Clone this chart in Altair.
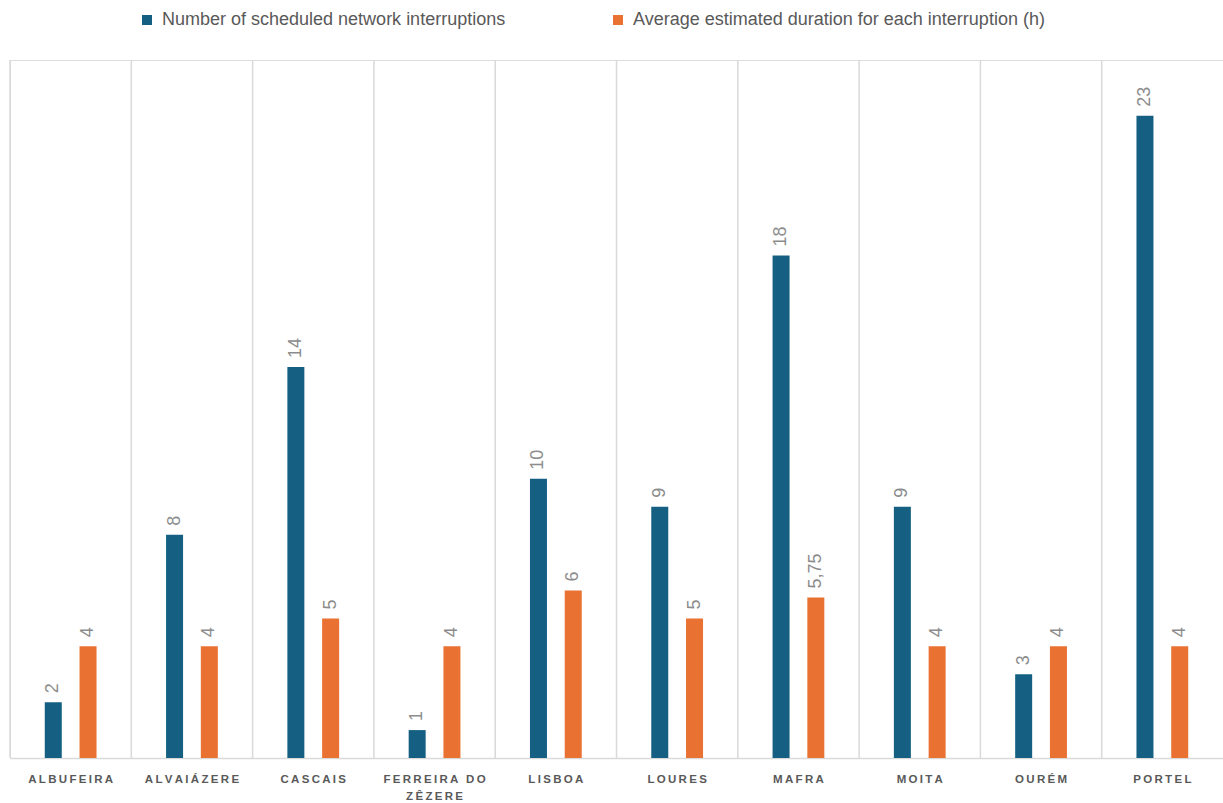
import altair as alt
import pandas as pd

categories = ["Albufeira", "Alvaiázere", "Cascais", "Ferreira do Zêzere", "Lisboa",
              "Loures", "Mafra", "Moita", "Ourém", "Portel"]
interruptions = [2, 8, 14, 1, 10, 9, 18, 9, 3, 23]
avg_duration = [4, 4, 5, 4, 6, 5, 5.75, 4, 4, 4]
series_names = ["Number of scheduled network interruptions",
                "Average estimated duration for each interruption (h)"]
series_colors = ["#156082", "#E97132"]


def fmt(v):
    s = ("%g" % v)
    return s.replace(".", ",")


rows = []
for c, a, b in zip(categories, interruptions, avg_duration):
    rows.append({"cat": c, "series": series_names[0], "value": a, "label": fmt(a)})
    rows.append({"cat": c, "series": series_names[1], "value": b, "label": fmt(b)})
df = pd.DataFrame(rows)
grid_df = pd.DataFrame({"cat": categories})

W = 1213
H = 698

sp = "\u2009"
label_expr = (
    "datum.label == 'Ferreira do Zêzere' ? "
    "[replace('FERREIRA DO', regexp('(.)(?=.)', 'g'), '$1" + sp + "'), "
    "replace('ZÊZERE', regexp('(.)(?=.)', 'g'), '$1" + sp + "')] : "
    "replace(upper(datum.label), regexp('(.)(?=.)', 'g'), '$1" + sp + "')"
)

x_enc = alt.X("cat:N", sort=categories,
              scale=alt.Scale(paddingInner=0, paddingOuter=0),
              axis=alt.Axis(title=None, labelExpr=label_expr, labelAngle=0,
                            labelAlign="center", labelBaseline="top",
                            labelFont="Liberation Sans", labelFontSize=11.5,
                            labelFontWeight="bold", labelColor="#595959",
                            labelPadding=15, labelLineHeight=17,
                            ticks=False, domain=True, domainColor="#d9d9d9",
                            domainWidth=1.5, grid=False, labelLimit=200))

y_scale = alt.Scale(domain=[0, 25], nice=False)

base = alt.Chart(df)

bars = base.mark_bar().encode(
    x=x_enc,
    xOffset=alt.XOffset("series:N", sort=series_names,
                        scale=alt.Scale(paddingInner=0.511, paddingOuter=1)),
    y=alt.Y("value:Q", scale=y_scale, axis=None),
    color=alt.Color("series:N", sort=series_names,
                    scale=alt.Scale(domain=series_names, range=series_colors),
                    legend=alt.Legend(title=None, orient="none", direction="horizontal",
                                      legendX=128, legendY=-49,
                                      symbolType="square", symbolSize=100,
                                      symbolStrokeWidth=0, labelLimit=700,
                                      labelFont="Liberation Sans", labelFontSize=18,
                                      labelColor="#595959", columnPadding=103,
                                      labelOffset=6)),
)

labels = base.mark_text(angle=270, align="left", baseline="middle", dx=9,
                        font="Liberation Sans", fontSize=18, color="#8c8c8c").encode(
    x=alt.X("cat:N", sort=categories),
    xOffset=alt.XOffset("series:N", sort=series_names),
    y=alt.Y("value:Q", scale=y_scale),
    text="label:N",
)

grid = alt.Chart(grid_df).mark_rule(color="#d9d9d9", strokeWidth=1.5).encode(
    x=alt.X("cat:N", sort=categories, bandPosition=0),
    y=alt.value(0),
    y2=alt.value(H),
)

chart = alt.layer(grid, bars, labels).properties(
    width=W, height=H,
    padding={"left": 10, "top": 60, "right": 0, "bottom": 45},
    autosize=alt.AutoSizeParams(type="none"),
).configure_view(stroke=None).configure(background="white")

chart.save("out.html", embed_options={"renderer": "svg", "actions": False})
